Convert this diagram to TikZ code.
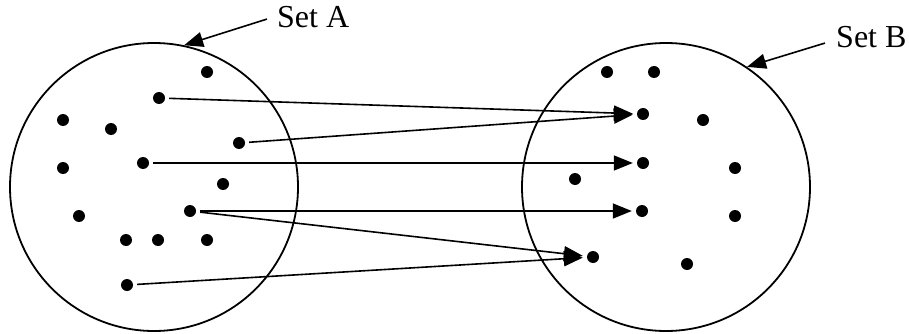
\documentclass[tikz,border=0pt]{standalone}
\usepackage{fontspec}
\setmainfont{Liberation Serif}
\usetikzlibrary{arrows.meta}
\begin{document}
\begin{tikzpicture}[x=1pt,y=-1pt,
  setcircle/.style={circle,draw,line width=1.8pt,minimum size=288pt,inner sep=0},
  dot/.style={circle,fill,inner sep=0,minimum size=12pt},
  lbl/.style={anchor=base west,inner sep=0,font=\fontsize{32}{38}\selectfont},
  conn/.style={line width=1.6pt,-{Triangle[length=19pt,width=15pt]},shorten <=4pt,shorten >=4pt},
  lblarrow/.style={line width=1.6pt,-{Triangle[length=19pt,width=15pt]}}]
\useasboundingbox (0,0) rectangle (909,334);
\node[setcircle] (A) at (154,187) {};
\node[setcircle] (B) at (666,187) {};
% dots in A
\node[dot] (a1) at (207,72) {};
\node[dot] (a2) at (159,98) {};
\node[dot] (a3) at (63,120) {};
\node[dot] (a4) at (111,129) {};
\node[dot] (a5) at (239,143) {};
\node[dot] (a6) at (63,168) {};
\node[dot] (a7) at (143,163) {};
\node[dot] (a8) at (223,184) {};
\node[dot] (a9) at (79,216) {};
\node[dot] (a10) at (190,211) {};
\node[dot] (a11) at (126,240) {};
\node[dot] (a12) at (158,240) {};
\node[dot] (a13) at (207,240) {};
\node[dot] (a14) at (127,285) {};
% dots in B
\node[dot] (b1) at (607,72) {};
\node[dot] (b2) at (654,72) {};
\node[dot] (b3) at (643,114) {};
\node[dot] (b4) at (703,120) {};
\node[dot] (b5) at (643,163) {};
\node[dot] (b6) at (735,168) {};
\node[dot] (b7) at (575,179) {};
\node[dot] (b8) at (642,211) {};
\node[dot] (b9) at (735,216) {};
\node[dot] (b10) at (593,257) {};
\node[dot] (b11) at (687,264) {};
% mapping arrows
\draw[conn] (a2) -- (b3);
\draw[conn] (a5) -- (b3);
\draw[conn] (a7) -- (b5);
\draw[conn] (a10) -- (b8);
\draw[conn] (a10) -- (b10);
\draw[conn] (a14) -- (b10);
% labels
\node[lbl] (lblA) at (277,28) {Set A};
\node[lbl] (lblB) at (836,48) {Set B};
\draw[lblarrow] ([xshift=-10pt,yshift=-1.5pt]lblA.west) -- (A.78);
\draw[lblarrow] ([xshift=-11pt,yshift=-5.5pt]lblB.west) -- (B.56);
\end{tikzpicture}
\end{document}
